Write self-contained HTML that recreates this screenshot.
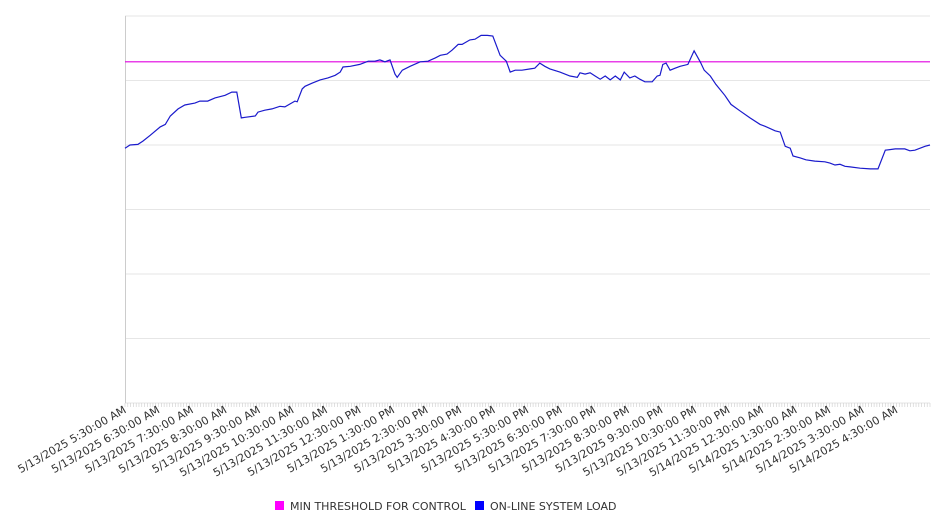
<!DOCTYPE html>
<html><head><meta charset="utf-8">
<style>
body{margin:0;background:#fff;}
svg{display:block;font-family:"DejaVu Sans","Liberation Sans",sans-serif;}
</style></head>
<body>
<svg id="chart" width="946" height="526" viewBox="0 0 946 526" xmlns="http://www.w3.org/2000/svg">
<g id="grid"></g>
<g id="xaxis"></g>
<g id="series"></g>
<g id="legend">
  <rect x="275" y="501" width="9" height="9" fill="#ff00ff"/>
  <text x="290" y="510" font-size="11" fill="#333">MIN THRESHOLD FOR CONTROL</text>
  <rect x="475" y="501" width="9" height="9" fill="#0000ff"/>
  <text x="490" y="510" font-size="11" fill="#333">ON-LINE SYSTEM LOAD</text>
</g>
</svg>
<script>
// minutes since 5/13/2025 5:30 AM
const loadMinutes = [0,9,23,32,45,63,72,81,95,107,125,134,148,161,179,191,200,208,215,233,238,250,263,277,286,304,308,317,322,335,349,363,376,385,390,403,420,435,447,456,465,474,483,487,496,510,528,542,555,564,576,585,596,603,617,626,637,648,658,671,682,689,698,710,725,733,742,751,760,778,796,809,814,823,832,841,850,859,868,877,886,893,903,912,921,930,943,952,957,962,968,975,984,993,1007,1018,1029,1036,1047,1057,1073,1084,1100,1118,1136,1145,1163,1172,1181,1190,1195,1208,1218,1234,1252,1261,1270,1279,1288,1297,1315,1333,1347,1360,1378,1395,1404,1413,1431,1440];
const loadValues = [395,400,401,406,415,428,432,445,456,462,465,468,468,473,477,482,482,442,443,445,451,454,456,460,459,468,467,487,491,496,501,504,508,513,521,522,525,530,530,532,529,532,510,505,516,522,529,530,535,539,541,547,556,556,563,564,570,570,569,539,530,513,516,516,518,519,527,522,518,513,507,505,512,510,512,507,502,507,501,507,501,513,504,507,502,498,498,507,508,525,527,516,519,522,525,546,529,516,507,494,477,463,453,442,432,429,422,420,398,395,383,380,377,375,374,372,369,370,367,366,364,363,363,392,394,394,391,392,398,400];
const thresholdValue = [529];
const tickLabels = ["5/13/2025 5:30:00 AM","5/13/2025 6:30:00 AM","5/13/2025 7:30:00 AM","5/13/2025 8:30:00 AM","5/13/2025 9:30:00 AM","5/13/2025 10:30:00 AM","5/13/2025 11:30:00 AM","5/13/2025 12:30:00 PM","5/13/2025 1:30:00 PM","5/13/2025 2:30:00 PM","5/13/2025 3:30:00 PM","5/13/2025 4:30:00 PM","5/13/2025 5:30:00 PM","5/13/2025 6:30:00 PM","5/13/2025 7:30:00 PM","5/13/2025 8:30:00 PM","5/13/2025 9:30:00 PM","5/13/2025 10:30:00 PM","5/13/2025 11:30:00 PM","5/14/2025 12:30:00 AM","5/14/2025 1:30:00 AM","5/14/2025 2:30:00 AM","5/14/2025 3:30:00 AM","5/14/2025 4:30:00 AM"];
const yTicks = [0,100,200,300,400,500,600];

const NS="http://www.w3.org/2000/svg";
const L=125,R=930,T=16,B=403;
const xMax=1440,yMax=600;
function xs(m){return L+(m/xMax)*(R-L);}
function ys(v){return B-(v/yMax)*(B-T);}
function mk(tag,attrs,parent){const e=document.createElementNS(NS,tag);for(const k in attrs)e.setAttribute(k,attrs[k]);parent.appendChild(e);return e;}

const grid=document.getElementById('grid');
yTicks.forEach(v=>{
  const l=mk('line',{x1:L,x2:R,y1:ys(v),y2:ys(v),stroke:'#e6e6e6','stroke-width':1},grid);
  
  
});
const ax=document.getElementById('xaxis');
const yl=mk('line',{x1:L+0.5,x2:L+0.5,y1:T,y2:B,stroke:'#ccc'},ax);


for(let m=0;m<=xMax;m+=5){
  const t=mk('line',{x1:xs(m),x2:xs(m),y1:B,y2:B+4,stroke:'#ccc','stroke-width':0.6},ax);
  
  
}
tickLabels.forEach((s,i)=>{
  const x=xs(i*60)+2,y=B+9;
  const t=mk('text',{x:x,y:y,'font-size':11,fill:'#333','text-anchor':'end',transform:`rotate(-30 ${x} ${y})`},ax);
  t.textContent=s;
  
  
});
const ser=document.getElementById('series');
const th=mk('line',{x1:L,x2:R,y1:ys(thresholdValue[0]),y2:ys(thresholdValue[0]),stroke:'#e000e0','stroke-width':1.2},ser);


const pts=loadMinutes.map((m,i)=>xs(m).toFixed(1)+','+ys(loadValues[i]).toFixed(1)).join(' ');
const pl=mk('polyline',{points:pts,fill:'none',stroke:'#1a1acc','stroke-width':1.2},ser);


</script>
</body></html>
